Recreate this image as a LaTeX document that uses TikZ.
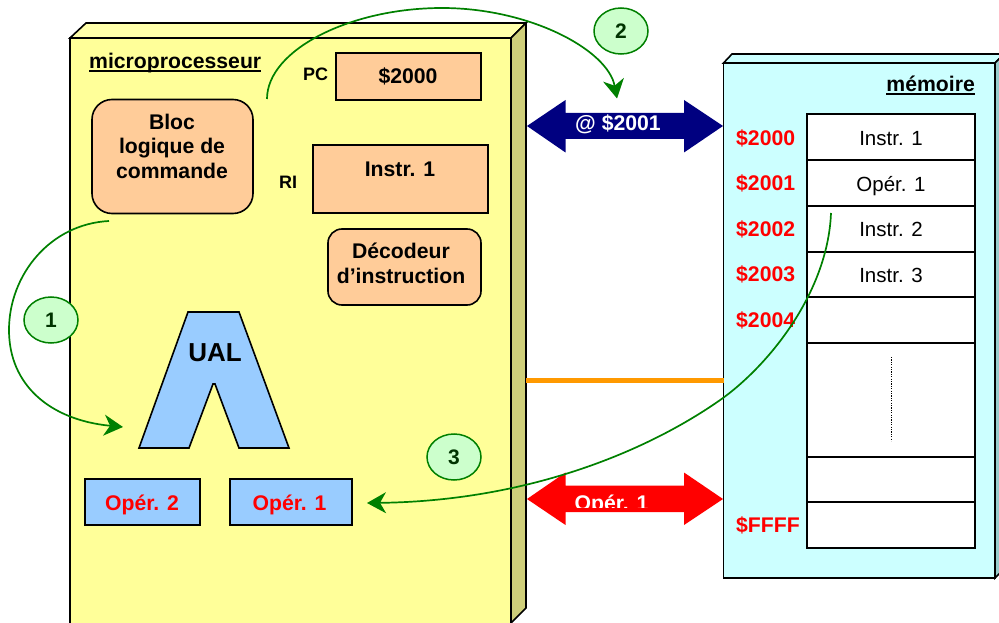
\documentclass[tikz,border=0pt]{standalone}
\usepackage{fontspec}
\setmainfont{Liberation Sans}
\usetikzlibrary{arrows.meta,shapes.geometric}
\definecolor{cpufront}{HTML}{FFFF99}
\definecolor{cputop}{HTML}{FFFFAA}
\definecolor{cpuside}{HTML}{CFCF7A}
\definecolor{memfront}{HTML}{CCFFFF}
\definecolor{memside}{HTML}{99CCCC}
\definecolor{orangebox}{HTML}{FFCC99}
\definecolor{bluebox}{HTML}{99CCFF}
\definecolor{navyarrow}{HTML}{000080}
\definecolor{busorange}{HTML}{FF9900}
\definecolor{flow}{HTML}{008000}
\definecolor{stepfill}{HTML}{CCFFCC}
\definecolor{steptext}{HTML}{003300}
\newcommand{\thickul}[1]{\setbox0\hbox{#1}\rlap{\raisebox{-3.6pt}{\rule{\wd0}{2pt}}}\box0 }
\tikzset{
  x=1pt,y=-1pt,
  outline/.style={draw=black,line width=1.6pt,line join=miter},
  regbox/.style={outline,rectangle,inner sep=0pt},
  roundbox/.style={outline,rectangle,rounded corners=#1,inner sep=0pt,fill=orangebox},
  cell/.style={regbox,fill=white,minimum width=168pt},
  txt/.style={inner sep=0pt,anchor=base,yshift=-0.6pt,font=\fontsize{21.2}{24}\selectfont\bfseries},
  addr/.style={inner sep=0pt,anchor=base west,yshift=-0.6pt,text=red,font=\fontsize{21.2}{24}\selectfont\bfseries},
  celltxt/.style={inner sep=0pt,anchor=base,yshift=-0.6pt,font=\fontsize{20.5}{24}\selectfont},
  smalltxt/.style={inner sep=0pt,anchor=base west,yshift=-0.6pt,font=\fontsize{18}{22}\selectfont\bfseries},
  stepmark/.style={ellipse,draw=flow,line width=1.5pt,fill=stepfill,minimum width=54pt,minimum height=46pt,inner sep=0pt,text=steptext,font=\fontsize{21}{24}\selectfont\bfseries},
  flowline/.style={draw=flow,line width=1.7pt,-{Stealth[length=19pt,width=21pt,inset=6pt,fill=flow]}},
}
\begin{document}
\begin{tikzpicture}
\useasboundingbox (0,0) rectangle (999,623);
\clip (0,0) rectangle (999,623);
% microprocessor block
\path[outline,fill=cputop] (70,38) -- (86,23) -- (526,23) -- (511,38) -- cycle;
\path[outline,fill=cpuside] (511,38) -- (526,23) -- (526,608) -- (511,623) -- cycle;
\path[outline,fill=cpufront] (70,38) rectangle (511,640);
% memory block
\path[outline,fill=memfront] (723.5,63) -- (732,54) -- (1004,54) -- (995,63) -- cycle;
\path[outline,fill=memside] (995,63) -- (1004,54) -- (1004,569) -- (995,578) -- cycle;
\path[outline,fill=memfront] (723.5,63) rectangle (995,578);
% titles
\node[txt,anchor=base west] (cpulab) at (89,68) {\thickul{microprocesseur}};
\node[txt,anchor=base east] (memlab) at (975,90.7) {\thickul{mémoire}};
% registers
\node[smalltxt] (pclab) at (303,80) {PC};
\node[regbox,fill=orangebox,minimum width=145pt,minimum height=47pt] (pc) at (408.5,76.5) {};
\node[txt] (pcval) at (408,83) {\$2000};
\node[smalltxt] (rilab) at (279,188) {RI};
\node[regbox,fill=orangebox,minimum width=175pt,minimum height=68pt] (ri) at (400.5,179) {};
\node[txt] (rival) at (400,175.7) {Instr. 1};
\node[roundbox=20pt,minimum width=161pt,minimum height=114pt] (bloc) at (172.5,156.5) {};
\node[txt] (bloc1) at (172,129) {Bloc};
\node[txt] (bloc2) at (172,153) {logique de};
\node[txt] (bloc3) at (172,178) {commande};
\node[roundbox=14pt,minimum width=153pt,minimum height=76pt] (dec) at (404.5,267) {};
\node[txt] (dec1) at (401,258) {Décodeur};
\node[txt] (dec2) at (401,283) {d’instruction};
% ALU
\path[outline,fill=bluebox] (188,312) -- (239,312) -- (289,448) -- (239,448) -- (215,384) -- (213,384) -- (189,448) -- (139,448) -- cycle;
\node[txt,font=\fontsize{26}{30}\selectfont\bfseries] (ual) at (215,360.7) {UAL};
\node[regbox,fill=bluebox,minimum width=115pt,minimum height=46pt] (op2) at (142.5,502) {};
\node[txt,text=red] (op2t) at (142,510) {Opér. 2};
\node[regbox,fill=bluebox,minimum width=122pt,minimum height=46pt] (op1) at (291,502) {};
\node[txt,text=red] (op1t) at (289.5,510) {Opér. 1};
% memory cells
\node[cell,minimum height=46pt] (c1) at (891,137) {};
\node[cell,minimum height=46pt] (c2) at (891,183) {};
\node[cell,minimum height=46pt] (c3) at (891,229) {};
\node[cell,minimum height=45pt] (c4) at (891,274.5) {};
\node[cell,minimum height=46pt] (c5) at (891,320) {};
\node[cell,minimum height=114pt] (c6) at (891,400) {};
\node[cell,minimum height=45pt] (c7) at (891,479.5) {};
\node[cell,minimum height=46pt] (c8) at (891,525) {};
\node[celltxt] (i1) at (891,145) {Instr. 1};
\node[celltxt] (i2) at (891,190.7) {Opér. 1};
\node[celltxt] (i3) at (891,236) {Instr. 2};
\node[celltxt] (i4) at (891,282) {Instr. 3};
\coordinate (dotA) at (891,357);
\coordinate (dotB) at (891,441);
\draw[line width=1pt,dash pattern=on 1.2pt off 1.2pt] (dotA) -- (dotB);
\node[addr] (a0) at (736,145) {\$2000};
\node[addr] (a1) at (736,190) {\$2001};
\node[addr] (a2) at (736,235.5) {\$2002};
\node[addr] (a3) at (736,281) {\$2003};
\node[addr] (a4) at (736,327) {\$2004};
\node[addr] (a5) at (736,531.7) {\$FFFF};
% buses
\fill[navyarrow] (527,126) -- (565.5,100) -- (565.5,113) -- (684,113) -- (684,100) -- (723,126) -- (684,152.5) -- (684,139) -- (565.5,139) -- (565.5,152.5) -- cycle;
\node[txt,text=white] (addrbus) at (618,129.5) {@ \$2001};
\draw[busorange,line width=5pt] (526,380.5) -- (723.5,380.5);
\fill[red] (527,499) -- (565.5,472.5) -- (565.5,485.5) -- (684,485.5) -- (684,472.5) -- (723,499) -- (684,525) -- (684,512) -- (565.5,512) -- (565.5,525) -- cycle;
\begin{scope}
\clip (560,485) rectangle (690,507);
\node[txt,text=white] (databus) at (611.5,509.5) {Opér. 1};
\end{scope}
% flows
\coordinate (f1a) at (109,221);
\coordinate (f1b) at (9,330);
\coordinate (f1c) at (123,427);
\draw[flowline] (f1a) .. controls (50,224) and (9,275) .. (f1b) .. controls (9,385) and (50,420) .. (f1c);
\coordinate (f2a) at (267,99);
\coordinate (f2b) at (442,8);
\coordinate (f2c) at (617,98.5);
\draw[flowline] (f2a) .. controls (267,50) and (350,8) .. (f2b) .. controls (530,8) and (608,50) .. (f2c);
\coordinate (f3a) at (831,213);
\coordinate (f3b) at (723,398);
\coordinate (f3c) at (367,503);
\draw[flowline] (f3a) .. controls (828,290) and (772,362) .. (f3b) .. controls (650,450) and (530,501) .. (f3c);
\node[stepmark] (s1) at (51,320) {1};
\node[stepmark] (s2) at (621,31) {2};
\node[stepmark] (s3) at (454,457) {3};
\end{tikzpicture}
\end{document}
